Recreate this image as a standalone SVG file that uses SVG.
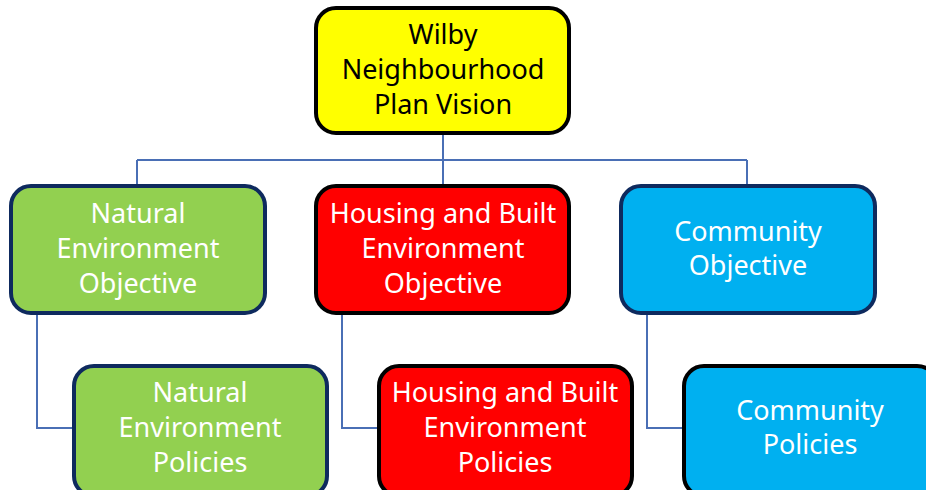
<svg xmlns="http://www.w3.org/2000/svg" width="926" height="490" viewBox="0 0 926 490">
<style>
.box{stroke-width:4}
.k{stroke:#000}
.n{stroke:#0e2a5e}
.y{fill:#ffff00}
.g{fill:#92d050}
.r{fill:#ff0000}
.b{fill:#00b0f0}
text{font-family:"Noto Sans","Open Sans","Liberation Sans",sans-serif;font-size:27px;text-anchor:middle}
.dk{fill:#000}
.wt{fill:#fff}
.c{fill:none;stroke:#4a6fb5;stroke-width:2}
</style>
<rect width="926" height="490" fill="#fff"/>
<g id="connectors">
<path class="c" d="M443 133V160M137 160H747M137 160V185M443 160V185M747 160V185"/>
<path class="c" d="M37 313V428H73"/>
<path class="c" d="M342 313V428H378"/>
<path class="c" d="M647 313V428H683"/>
</g>
<g id="vision">
<rect class="box k y" x="316" y="8" width="253" height="125" rx="20"/>
<text class="dk" x="443" y="44">Wilby</text>
<text class="dk" x="443" y="79">Neighbourhood</text>
<text class="dk" x="443" y="114">Plan Vision</text>
</g>
<g id="nat-obj">
<rect class="box n g" x="11" y="186" width="254" height="127" rx="20"/>
<text class="wt" x="138" y="223">Natural</text>
<text class="wt" x="138" y="258">Environment</text>
<text class="wt" x="138" y="293">Objective</text>
</g>
<g id="hou-obj">
<rect class="box k r" x="316" y="186" width="253" height="127" rx="20"/>
<text class="wt" x="443" y="223">Housing and Built</text>
<text class="wt" x="443" y="258">Environment</text>
<text class="wt" x="443" y="293">Objective</text>
</g>
<g id="com-obj">
<rect class="box n b" x="621" y="186" width="254" height="127" rx="20"/>
<text class="wt" x="748" y="241">Community</text>
<text class="wt" x="748" y="275">Objective</text>
</g>
<g id="nat-pol">
<rect class="box n g" x="74" y="366" width="253" height="130" rx="20"/>
<text class="wt" x="200" y="402">Natural</text>
<text class="wt" x="200" y="437">Environment</text>
<text class="wt" x="200" y="472">Policies</text>
</g>
<g id="hou-pol">
<rect class="box k r" x="379" y="366" width="253" height="130" rx="20"/>
<text class="wt" x="505" y="402">Housing and Built</text>
<text class="wt" x="505" y="437">Environment</text>
<text class="wt" x="505" y="472">Policies</text>
</g>
<g id="com-pol">
<rect class="box k b" x="684" y="366" width="253" height="130" rx="20"/>
<text class="wt" x="810" y="420">Community</text>
<text class="wt" x="810" y="454">Policies</text>
</g>
</svg>
